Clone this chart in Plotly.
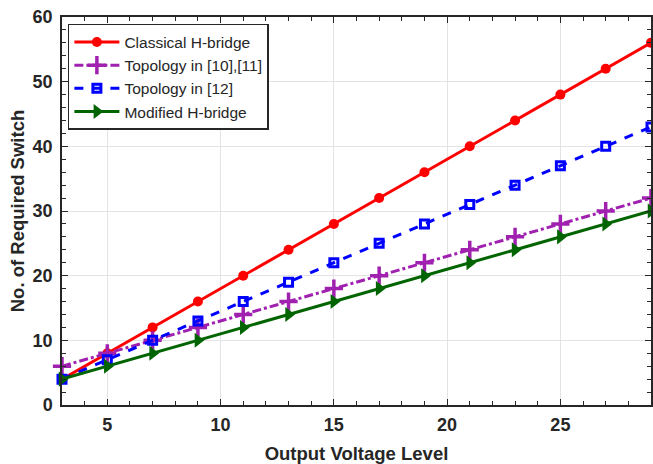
import plotly.graph_objects as go

levels = [3, 5, 7, 9, 11, 13, 15, 17, 19, 21, 23, 25, 27, 29]
classical = [4, 8, 12, 16, 20, 24, 28, 32, 36, 40, 44, 48, 52, 56]
topo_10_11 = [6, 8, 10, 12, 14, 16, 18, 20, 22, 24, 26, 28, 30, 32]
topo_12 = [4, 7, 10, 13, 16, 19, 22, 25, 28, 31, 34, 37, 40, 43]
modified = [4, 6, 8, 10, 12, 14, 16, 18, 20, 22, 24, 26, 28, 30]

FONT = "Liberation Sans, Arial, sans-serif"
INK = "#262626"

fig = go.Figure()
fig.add_trace(go.Scatter(x=levels, y=classical, name="Classical H-bridge", mode="lines+markers",
                         line=dict(color="#FF0000", width=3), cliponaxis=False,
                         marker=dict(symbol="circle", size=10, color="#FF0000")))
fig.add_trace(go.Scatter(x=levels, y=topo_10_11, name="Topology in [10],[11]", mode="lines+markers",
                         line=dict(color="#A020B0", width=3, dash="dashdot"), cliponaxis=False,
                         marker=dict(symbol="cross-thin", size=13, line=dict(color="#A020B0", width=3.5))))
fig.add_trace(go.Scatter(x=levels, y=topo_12, name="Topology in [12]", mode="lines+markers",
                         line=dict(color="#0000FF", width=3, dash="dash"), cliponaxis=False,
                         marker=dict(symbol="square-open", size=8, color="#0000FF", line=dict(width=3))))
fig.add_trace(go.Scatter(x=levels, y=modified, name="Modified H-bridge", mode="lines+markers",
                         line=dict(color="#006400", width=3), cliponaxis=False,
                         marker=dict(symbol="triangle-right", size=13, color="#006400")))

axis_common = dict(showline=True, linecolor=INK, linewidth=1.5, mirror="allticks",
                   ticks="inside", ticklen=6, tickwidth=1.3, tickcolor=INK,
                   showgrid=True, gridcolor="#E3E3E3", gridwidth=1.2, zeroline=False,
                   automargin=False, ticklabeloverflow="allow",
                   tickfont=dict(family=FONT, size=18, color=INK, weight="bold"))

fig.update_xaxes(range=[3, 29], tick0=0, dtick=5, ticklabelstandoff=3,
                 minor=dict(dtick=1, ticks="inside", ticklen=4, tickcolor=INK, showgrid=False),
                 title=dict(text="Output Voltage Level", font=dict(family=FONT, size=18.5, color=INK, weight="bold"),
                            standoff=15),
                 **axis_common)
fig.update_yaxes(range=[0, 60], tick0=0, dtick=10, ticklabelstandoff=4,
                 minor=dict(dtick=2, ticks="inside", ticklen=4, tickcolor=INK, showgrid=False),
                 title=dict(text="No. of Required Switch", font=dict(family=FONT, size=18.5, color=INK, weight="bold"),
                            standoff=3),
                 **axis_common)

fig.update_layout(
    width=653, height=464,
    margin=dict(l=62, r=2, t=17, b=59),
    paper_bgcolor="white", plot_bgcolor="white",
    legend=dict(x=0.01, y=0.982, xanchor="left", yanchor="top",
                bgcolor="white", bordercolor=INK, borderwidth=1.5,
                font=dict(family=FONT, size=15.5, color=INK),
                tracegroupgap=0, itemwidth=45),
    showlegend=True,
)

fig.write_html("out.html", config={"displayModeBar": False},
               post_script="document.body.style.margin='0';")
